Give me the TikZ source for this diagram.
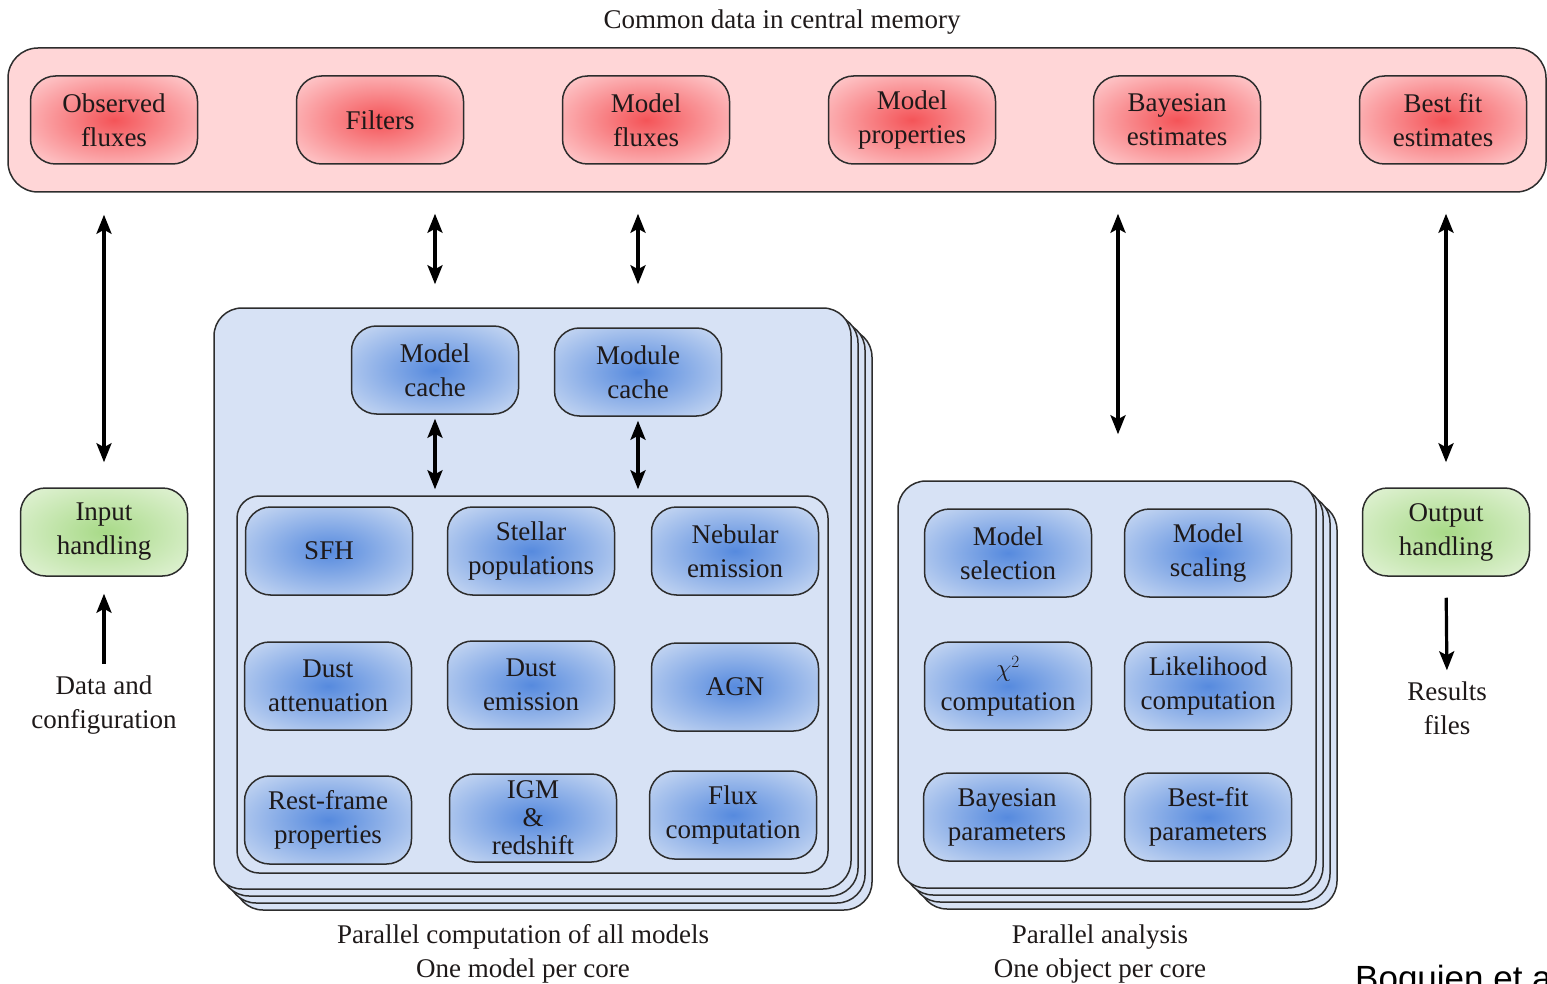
\documentclass[tikz,border=0pt]{standalone}
\usepackage{fontspec}
\setmainfont{Liberation Serif}
\newfontfamily\arialfont{Liberation Sans}
\usetikzlibrary{arrows.meta}
\definecolor{redin}{RGB}{244,84,88}
\definecolor{redout}{RGB}{255,212,214}
\definecolor{memfill}{RGB}{255,214,215}
\definecolor{bluein}{RGB}{86,138,222}
\definecolor{blueout}{RGB}{214,226,245}
\definecolor{panelblue}{RGB}{215,226,245}
\definecolor{greenin}{RGB}{168,218,136}
\definecolor{greenout}{RGB}{232,245,222}
\definecolor{bord}{RGB}{45,45,45}
\definecolor{txt}{RGB}{30,25,25}
\pgfdeclareradialshading{redrad}{\pgfpoint{0bp}{0bp}}{color(0bp)=(redin); color(36bp)=(redout); color(50bp)=(redout)}
\pgfdeclareradialshading{bluerad}{\pgfpoint{0bp}{0bp}}{color(0bp)=(bluein); color(38bp)=(blueout); color(50bp)=(blueout)}
\pgfdeclareradialshading{greenrad}{\pgfpoint{0bp}{0bp}}{color(0bp)=(greenin); color(38bp)=(greenout); color(50bp)=(greenout)}
\tikzset{
  every node/.style={font=\fontsize{27}{34}\selectfont, text=txt},
  box/.style={draw=bord, line width=1.5pt, rounded corners=25pt, minimum width=167pt, minimum height=88pt, align=center, inner sep=0pt},
  redbox/.style={box, shading=redrad},
  bluebox/.style={box, shading=bluerad},
  greenbox/.style={box, shading=greenrad},
  panel/.style={draw=bord, line width=1.5pt, rounded corners=28pt, fill=panelblue, inner sep=0pt},
  tip/.tip={Stealth[length=19pt,width=15pt,inset=4pt]},
  dbl/.style={tip-tip, line width=3.2pt, draw=black},
  sgl/.style={-tip, line width=3.2pt, draw=black},
  lbl/.style={align=center, inner sep=2pt},
}
\begin{document}
\begin{tikzpicture}[x=1pt,y=-1pt]
\useasboundingbox (0,0) rectangle (1547,984);
% title
\node[lbl] (title) at (782,22) {Common data in central memory};
% memory box
\node[draw=bord, line width=1.5pt, rounded corners=30pt, fill=memfill, minimum width=1538pt, minimum height=144pt, inner sep=0pt] (mem) at (777,120) {};
\node[redbox] (obs) at (114,120) {Observed\\fluxes};
\node[redbox] (filt) at (380,120) {Filters};
\node[redbox] (mflux) at (646,120) {Model\\fluxes};
\node[redbox] (mprop) at (912,120) {Model\\properties};
\node[redbox] (bayes) at (1177,120) {Bayesian\\estimates};
\node[redbox] (best) at (1443,120) {Best fit\\estimates};
% left stack
\node[panel, minimum width=637pt, minimum height=581pt] (stackL3) at (553.5,619.5) {};
\node[panel, minimum width=637pt, minimum height=581pt] (stackL2) at (546.5,612.5) {};
\node[panel, minimum width=637pt, minimum height=581pt] (stackL1) at (539.5,605.5) {};
\node[panel, minimum width=637pt, minimum height=581pt] (stackL) at (532.5,598.5) {};
\node[panel, rounded corners=22pt, minimum width=591pt, minimum height=377pt] (inner) at (532.5,684.5) {};
\node[bluebox] (mcache) at (435,370) {Model\\cache};
\node[bluebox] (modcache) at (638,372) {Module\\cache};
\node[bluebox] (sfh) at (329,551) {SFH};
\node[bluebox] (stellar) at (531,551) {Stellar\\populations};
\node[bluebox] (nebular) at (735,551) {Nebular\\emission};
\node[bluebox] (dustatt) at (328,686) {Dust\\attenuation};
\node[bluebox] (dustem) at (531,685) {Dust\\emission};
\node[bluebox] (agn) at (735,687) {AGN};
\node[bluebox] (rest) at (328,820) {Rest-frame\\properties};
\node[bluebox] (igm) at (533,818) {IGM\\[-6pt]\&\\[-6pt]redshift};
\node[bluebox] (flux) at (733,815) {Flux\\computation};
\node[lbl] (capL) at (523,954) {Parallel computation of all models\\One model per core};
% right stack
\node[panel, minimum width=418pt, minimum height=407pt] (stackR3) at (1128,705.5) {};
\node[panel, minimum width=418pt, minimum height=407pt] (stackR2) at (1121,698.5) {};
\node[panel, minimum width=418pt, minimum height=407pt] (stackR1) at (1114,691.5) {};
\node[panel, minimum width=418pt, minimum height=407pt] (stackR) at (1107,684.5) {};
\node[bluebox] (msel) at (1008,553) {Model\\selection};
\node[bluebox] (mscal) at (1208,553) {Model\\scaling};
\node[bluebox] (chi) at (1008,686) {$\chi^2$\\computation};
\node[bluebox] (like) at (1208,686) {Likelihood\\computation};
\node[bluebox] (bpar) at (1007,817) {Bayesian\\parameters};
\node[bluebox] (bfpar) at (1208,817) {Best-fit\\parameters};
\node[lbl] (capR) at (1100,954) {Parallel analysis\\One object per core};
% input / output
\node[greenbox] (input) at (104,532) {Input\\handling};
\node[greenbox] (output) at (1446,532) {Output\\handling};
\node[lbl] (data) at (104,705) {Data and\\configuration};
\node[lbl] (results) at (1447,708) {Results\\files};
% arrows
\draw[dbl, shorten <=22pt, shorten >=25pt] (input.north |- mem.south) -- (input.north);
\draw[dbl, shorten <=21pt, shorten >=23pt] (mcache.north |- mem.south) -- (mcache.north |- stackL.north);
\draw[dbl, shorten <=21pt, shorten >=23pt] (modcache.north |- mem.south) -- (modcache.north |- stackL.north);
\draw[dbl, shorten <=21pt, shorten >=46pt] ([xshift=11pt]stackR.north |- mem.south) -- ([xshift=11pt]stackR.north);
\draw[dbl, shorten <=21pt, shorten >=25pt] (output.north |- mem.south) -- (output.north);
\draw[dbl, shorten <=4pt, shorten >=6pt] (mcache.south) -- (mcache.south |- inner.north);
\draw[dbl, shorten <=4pt, shorten >=6pt] (modcache.south) -- (modcache.south |- inner.north);
\draw[sgl, shorten <=10pt, shorten >=17pt] (data.north) -- (input.south);
\draw[sgl, shorten <=21pt, shorten >=9pt] (output.south) -- (results.north);
% credit
\node[anchor=base west, inner sep=0pt, font=\arialfont\fontsize{35}{40}\selectfont, text=black] (credit) at (1355,990) {Boquien et al.};
\end{tikzpicture}
\end{document}
